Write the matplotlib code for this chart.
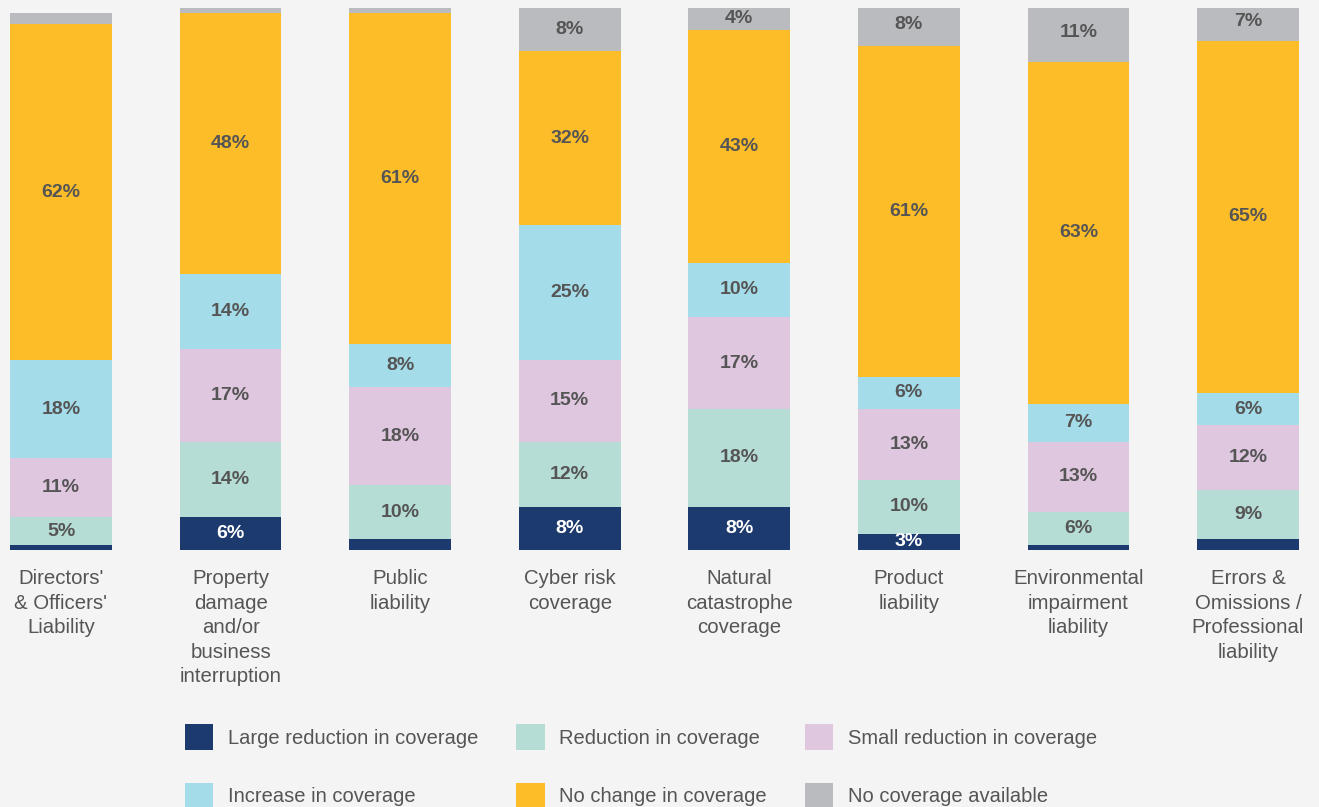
import numpy as np
import matplotlib
matplotlib.use("Agg")
import matplotlib.pyplot as plt

plt.rcParams["font.family"] = ["Liberation Sans", "DejaVu Sans"]

categories = ["Directors'\n& Officers'\nLiability",
              "Property\ndamage\nand/or\nbusiness\ninterruption",
              "Public\nliability",
              "Cyber risk\ncoverage",
              "Natural\ncatastrophe\ncoverage",
              "Product\nliability",
              "Environmental\nimpairment\nliability",
              "Errors &\nOmissions /\nProfessional\nliability"]

series_names = ["Large reduction in coverage", "Reduction in coverage",
                "Small reduction in coverage", "Increase in coverage",
                "No change in coverage", "No coverage available"]

large_red = [1, 6, 2, 8, 8, 3, 1, 2]
reduction = [5, 14, 10, 12, 18, 10, 6, 9]
small_red = [11, 17, 18, 15, 17, 13, 13, 12]
increase = [18, 14, 8, 25, 10, 6, 7, 6]
no_change = [62, 48, 61, 32, 43, 61, 63, 65]
no_cover = [2, 2, 1, 8, 4, 8, 11, 7]

colors = ["#1d3a6e", "#b5dcd5", "#dfc7e0", "#a4dce9", "#fdbd28", "#babbbf"]
BG = "#f4f4f4"
TXT = "#555555"

data = np.array([large_red, reduction, small_red, increase, no_change, no_cover], float)
x = np.arange(len(categories))

W, H = 1319, 807
fig = plt.figure(figsize=(W / 100, H / 100), dpi=100, facecolor=BG)
ax = fig.add_axes([0, (H - 550) / H, 1, 542 / H])
ax.set_facecolor(BG)

bottom = np.zeros(len(categories))
handles = []
for i, (vals, col, name) in enumerate(zip(data, colors, series_names)):
    b = ax.bar(x, vals, 0.6, bottom=bottom, color=col, label=name, linewidth=0)
    handles.append(b)
    for xi, v, b0 in zip(x, vals, bottom):
        if v >= 3:
            ax.text(xi, b0 + v / 2, f"{v:.0f}%", ha="center", va="center",
                    fontsize=14, fontweight="bold",
                    color="white" if i == 0 else TXT)
    bottom += vals

ax.set_xlim(-61 / 169.57, (W - 61) / 169.57)
ax.set_ylim(0, 100)
for s in ax.spines.values():
    s.set_visible(False)
ax.set_yticks([])
ax.set_xticks(x)
ax.set_xticklabels(categories, fontsize=14.7, color=TXT, linespacing=1.36)
ax.tick_params(axis="x", length=0, pad=14)

# legend filled row by row (matplotlib fills by column, so reorder)
order = [0, 3, 1, 4, 2, 5]
fig.legend(handles=[handles[k] for k in order],
           labels=[series_names[k] for k in order], ncol=3, loc="upper left",
           bbox_to_anchor=(185 / W, 1 - 724 / H), frameon=False, fontsize=14.5,
           labelcolor=TXT, handlelength=1.4, handleheight=1.6,
           handletextpad=0.72, columnspacing=1.9, labelspacing=1.62,
           borderpad=0, borderaxespad=0)

fig.savefig("out.png", dpi=100, facecolor=BG)
